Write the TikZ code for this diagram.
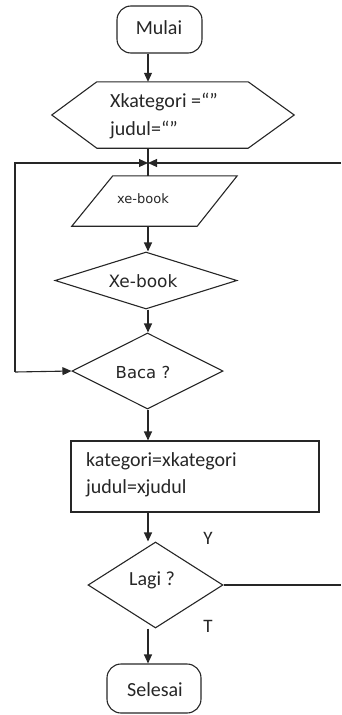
\documentclass[tikz,border=0pt]{standalone}
\usepackage{fontspec}
\setmainfont{Carlito}
\newfontfamily\dvs{DejaVu Sans}
\usetikzlibrary{shapes.geometric,arrows.meta,calc}
\begin{document}
\begin{tikzpicture}[x=1pt,y=-1pt,
  ln/.style={line width=1.1pt,draw=black!85},
  arr/.style={ln,-{Triangle[length=9pt,width=8pt]}},
  term/.style={ln,rectangle,rounded corners=14pt,inner sep=0pt},
  boxr/.style={ln,rectangle,inner sep=0pt},
  dia/.style={ln,diamond,aspect=2,inner sep=0pt},
  ghost/.style={draw=none,rectangle,inner sep=0pt},
  lbl/.style={font=\fontsize{20}{24}\selectfont,text=black!85,inner sep=0pt},
  dlbl/.style={text=black!85,inner sep=0pt}]
\useasboundingbox (0,0) rectangle (341,715);
\coordinate (sp) at (148,0);
% terminators
\node[term,minimum width=85pt,minimum height=47pt] (mulai) at (159.5,29.5) {};
\node[lbl] (mulait) at (159,28) {Mulai};
% hexagon
\node[ghost,minimum width=242pt,minimum height=66pt] (hex) at (173,115) {};
\draw[ln] (hex.west) -- ($(hex.north west)+(45,0)$) -- ($(hex.north east)+(-46,0)$)
  -- (hex.east) -- ($(hex.south east)+(-46,0)$) -- ($(hex.south west)+(45,0)$) -- cycle;
\node[lbl,anchor=west,align=left,font=\fontsize{20}{28}\selectfont] (hext) at (110,116) {Xkategori =“”\\judul=“”};
% junction
\coordinate (j) at (148,163);
% parallelogram
\node[ghost,minimum width=165pt,minimum height=50pt] (para) at (154.5,201) {};
\draw[ln] (para.south west) -- ($(para.north west)+(41,0)$) -- (para.north east)
  -- ($(para.south east)+(-40,0)$) -- cycle;
\node[dlbl,font=\dvs\fontsize{13}{15}\selectfont] (parat) at (143,199) {xe-book};
% diamond Xe-book
\node[dia,minimum width=182pt,minimum height=57pt] (xeb) at (146,280.5) {};
\node[dlbl,font=\dvs\fontsize{17}{20}\selectfont] (xebt) at (143,281) {Xe-book};
% diamond Baca
\node[dia,minimum width=151pt,minimum height=76pt] (baca) at (147.5,371) {};
\node[dlbl,font=\dvs\fontsize{16.5}{20}\selectfont] (bacat) at (143,372) {Baca ?};
% process box
\node[boxr,minimum width=248pt,minimum height=71pt] (proc) at (195,476.5) {};
\node[lbl,anchor=west,align=left,font=\fontsize{20}{27}\selectfont] (proct) at (86,474.5) {kategori=xkategori\\judul=xjudul};
% diamond Lagi
\node[dia,minimum width=135pt,minimum height=86pt] (lagi) at (155.5,585) {};
\node[lbl] (lagit) at (152,580) {Lagi ?};
\node[lbl,font=\fontsize{19}{22}\selectfont] (yl) at (208,538) {Y};
\node[lbl,font=\fontsize{19}{22}\selectfont] (tl) at (208,626) {T};
% end
\node[term,minimum width=94pt,minimum height=49pt] (sel) at (154,688.5) {};
\node[lbl] (selt) at (155,690) {Selesai};
% connectors
\draw[arr] (mulai.south -| sp) -- (hex.north -| sp);
\draw[ln] (hex.south -| sp) -- (para.north -| sp);
\draw[arr] (para.south -| sp) -- (xeb.north -| sp);
\draw[arr] (xeb.south -| sp) -- (baca.north -| sp);
\draw[arr] (baca.south -| sp) -- (proc.north -| sp);
\draw[arr] (proc.south -| sp) -- (lagi.north -| sp);
\draw[arr] (lagi.south -| sp) -- (sel.north -| sp);
\coordinate (lc) at (15,372);
\coordinate (r1) at (341,163);
\coordinate (r2) at (341,585);
\draw[arr] (lc) |- (j);
\draw[arr] (lc) -- (baca.west);
\draw[arr] (r1) -- (j);
\draw[ln] (lagi.east) -- (r2);
\end{tikzpicture}
\end{document}
